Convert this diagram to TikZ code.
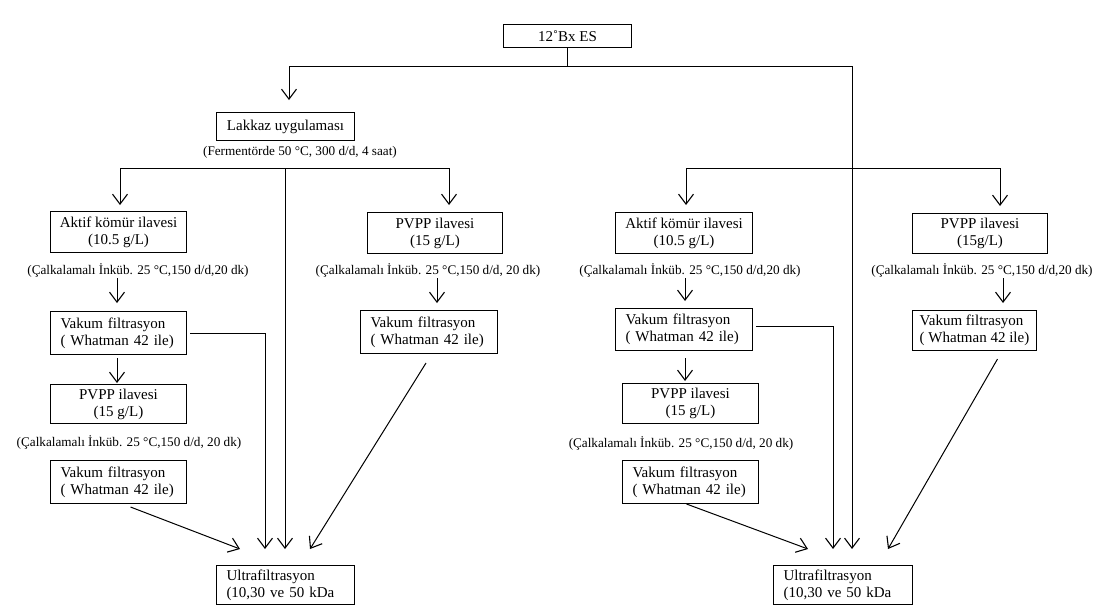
\documentclass[tikz,border=0pt]{standalone}
\usepackage{fontspec}
\setmainfont{Liberation Serif}
\usetikzlibrary{arrows.meta,calc}
\begin{document}
\begin{tikzpicture}[x=1pt,y=-1pt,
  box/.style={draw, line width=1pt, inner sep=0pt, anchor=north west, align=center,
    font=\fontsize{15}{17}\selectfont},
  lbox/.style={box, align=left, inner xsep=10pt},
  note/.style={inner sep=0pt, font=\fontsize{13.2}{15}\selectfont},
  ln/.style={line width=1pt},
  arr/.style={ln, -{Straight Barb[length=10pt,width=15pt,line width=1.1pt]}}]
\useasboundingbox (0,0) rectangle (1100,606);
% top
\node[box, minimum width=128pt, minimum height=23pt] (es) at (503,24) {12˚Bx ES};
\coordinate (tl) at (289,66);
\coordinate (tr) at (852,66);
\node[box, minimum width=138pt, minimum height=28pt] (lak) at (216,112) {Lakkaz uygulaması};
\node[note] (fer) at (300,152) {(Fermentörde 50 °C, 300 d/d, 4 saat)};
\coordinate (sl) at (120,168);
\coordinate (sm) at (285,168);
\coordinate (sr) at (449,168);
% left branch
\node[box, minimum width=136pt, minimum height=41pt] (ak1) at (50,211) {Aktif kömür ilavesi\\(10.5 g/L)};
\node[note] (n1) at (138,270) {(Çalkalamalı İnküb. 25 °C,150 d/d,20 dk)};
\node[lbox, text width=116pt, minimum height=43pt] (v1) at (50,311) {Vakum filtrasyon\\( Whatman 42 ile)};
\node[box, minimum width=136pt, minimum height=39pt] (pv1) at (50,384) {PVPP ilavesi\\(15 g/L)};
\node[note] (n2) at (129,442) {(Çalkalamalı İnküb. 25 °C,150 d/d, 20 dk)};
\node[lbox, text width=116pt, minimum height=43pt] (v2) at (50,460) {Vakum filtrasyon\\( Whatman 42 ile)};
\node[box, minimum width=135pt, minimum height=41pt] (pvr) at (367,212) {PVPP ilavesi\\(15 g/L)};
\node[note] (n3) at (428,270) {(Çalkalamalı İnküb. 25 °C,150 d/d, 20 dk)};
\node[lbox, text width=117pt, minimum height=43pt] (v3) at (360,310) {Vakum filtrasyon\\( Whatman 42 ile)};
\node[lbox, text width=118pt, minimum height=39pt] (uf1) at (216,565) {Ultrafiltrasyon\\(10,30 ve 50 kDa};
% right branch
\node[box, minimum width=137pt, minimum height=41pt] (ak2) at (615,212) {Aktif kömür ilavesi\\(10.5 g/L)};
\node[note] (n4) at (690,270) {(Çalkalamalı İnküb. 25 °C,150 d/d,20 dk)};
\node[lbox, text width=117pt, minimum height=42pt] (v4) at (615,308) {Vakum filtrasyon\\( Whatman 42 ile)};
\node[box, minimum width=136pt, minimum height=40pt] (pv2) at (622,383) {PVPP ilavesi\\(15 g/L)};
\node[note] (n5) at (681,443) {(Çalkalamalı İnküb. 25 °C,150 d/d, 20 dk)};
\node[lbox, text width=116pt, minimum height=43pt] (v5) at (622,460) {Vakum filtrasyon\\( Whatman 42 ile)};
\node[box, minimum width=135pt, minimum height=40pt] (pv3) at (912,213) {PVPP ilavesi\\(15g/L)};
\node[note] (n6) at (982,270) {(Çalkalamalı İnküb. 25 °C,150 d/d,20 dk)};
\node[box, align=left, minimum width=124pt, minimum height=40pt] (v6) at (912,310) {Vakum filtrasyon\\( Whatman 42 ile)};
\node[lbox, text width=119pt, minimum height=39pt] (uf2) at (773,565) {Ultrafiltrasyon\\(10,30 ve 50 kDa};
% arrow end coordinates
\coordinate (a1) at (240,549);
\coordinate (a2) at (265,549);
\coordinate (a3) at (285,549);
\coordinate (a4) at (310,549);
\coordinate (b1) at (808,549);
\coordinate (b2) at (833,549);
\coordinate (b3) at (852,549);
\coordinate (b4) at (888,549);
% connectors top
\draw[ln] (es.south) -- (es.south |- tl);
\draw[ln] (tl) -- (tr);
\draw[arr] (tl) -- (289,100);
\draw[arr] (tr) -- (b3);
\draw[ln] (sl) -- (sr);
\draw[arr] (sl) -- (120,205);
\draw[arr] (sr) -- (449,205);
\draw[arr] (sm) -- (a3);
% left column
\draw[arr] (117,278) -- (117,303);
\draw[arr] (117,358) -- (117,383);
\draw[arr] ($(v1.east)+(3,0)$) -| (a2);
\draw[arr] ($(v2.south)+(12,3)$) -- (a1);
\draw[arr] (437,278) -- (437,303);
\draw[arr] ($(v3.south)+(-3,9)$) -- (a4);
% right column
\draw[ln] (686,168) -- (1000,168);
\draw[arr] (686,168) -- (686,205);
\draw[arr] (1000,168) -- (1000,206);
\draw[arr] (685,278) -- (685,301);
\draw[arr] (685,358) -- (685,381);
\draw[arr] (756,326) -| (b2);
\draw[arr] ($(v5.south)-(4,0)$) -- (b1);
\draw[arr] (1003,278) -- (1003,303);
\draw[arr] ($(v6.south)+(23,8)$) -- (b4);
\end{tikzpicture}
\end{document}
